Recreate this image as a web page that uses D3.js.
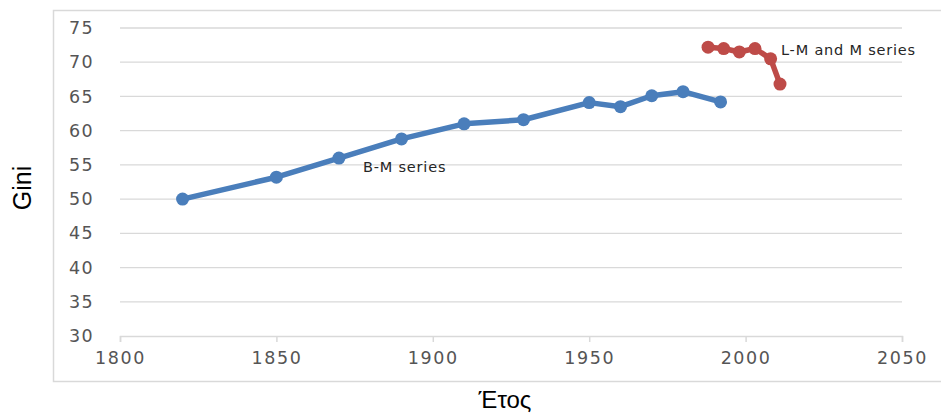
<!DOCTYPE html>
<html>
<head>
<meta charset="utf-8">
<script src="https://cdn.jsdelivr.net/npm/d3@7"></script>
<style>
  html, body { margin: 0; padding: 0; background: #fff; }
  svg { display: block; }
</style>
</head>
<body>
<svg id="chart" width="941" height="416"></svg>
<script>
// ---- data ----
const bmYears  = [1820, 1850, 1870, 1890, 1910, 1929, 1950, 1960, 1970, 1980, 1992];
const bmGini   = [50.0, 53.2, 56.0, 58.8, 61.0, 61.6, 64.1, 63.5, 65.1, 65.7, 64.2];
const lmYears  = [1988, 1993, 1998, 2003, 2008, 2011];
const lmGini   = [72.2, 72.0, 71.5, 72.0, 70.5, 66.8];
const xTicks   = [1800, 1850, 1900, 1950, 2000, 2050];
const yTicks   = [30, 35, 40, 45, 50, 55, 60, 65, 70, 75];
const bmLabel  = "B-M series";
const lmLabel  = "L-M and M series";
const xTitle   = "Έτος";
const yTitle   = "Gini";

// ---- layout ----
const svg = d3.select("#chart");
const x = d3.scaleLinear().domain([1800, 2050]).range([120, 902]);
const y = d3.scaleLinear().domain([30, 75]).range([336, 28]);

const blue = "#4a7ebb", red = "#be4b48", grid = "#d9d9d9", tickText = "#555555";

// frame
svg.append("rect").attr("x", 53.5).attr("y", 10.5).attr("width", 900).attr("height", 371)
  .attr("fill", "none").attr("stroke", grid).attr("stroke-width", 1.5);

// grid lines
svg.append("g").selectAll("line").data(yTicks.filter(d => d > 30)).join("line")
  .attr("x1", x(1800)).attr("x2", x(2050))
  .attr("y1", d => y(d)).attr("y2", d => y(d))
  .attr("stroke", grid).attr("stroke-width", 1.3);

// x axis
const xAxis = d3.axisBottom(x).tickValues(xTicks).tickFormat(d3.format("d")).tickSize(6).tickPadding(10);
const gx = svg.append("g").attr("transform", `translate(0,${y(30)})`).call(xAxis);
gx.select(".domain").attr("stroke", grid).attr("stroke-width", 1.5);
gx.selectAll(".tick line").attr("stroke", grid).attr("stroke-width", 1.5);
gx.selectAll(".tick text").attr("fill", tickText)
  .style("font-family", "'DejaVu Sans', sans-serif").style("font-size", "17.5px")
  .style("letter-spacing", "1.6px");

// y axis
const yAxis = d3.axisLeft(y).tickValues(yTicks).tickSize(0).tickPadding(26);
const gy = svg.append("g").attr("transform", `translate(${x(1800)},0)`).call(yAxis);
gy.select(".domain").remove();
gy.selectAll(".tick text").attr("fill", tickText)
  .style("font-family", "'DejaVu Sans', sans-serif").style("font-size", "17.5px")
  .style("letter-spacing", "1.4px");

// series
const line = d3.line().x(d => x(d[0])).y(d => y(d[1]));
function drawSeries(xs, ys, color) {
  const pts = xs.map((v, i) => [v, ys[i]]);
  svg.append("path").datum(pts).attr("d", line)
    .attr("fill", "none").attr("stroke", color).attr("stroke-width", 5.5)
    .attr("stroke-linejoin", "round").attr("stroke-linecap", "round");
  svg.append("g").selectAll("circle").data(pts).join("circle")
    .attr("cx", d => x(d[0])).attr("cy", d => y(d[1])).attr("r", 6.5)
    .attr("fill", color);
}
drawSeries(bmYears, bmGini, blue);
drawSeries(lmYears, lmGini, red);

// series labels
svg.append("text").attr("x", 363).attr("y", 172).text(bmLabel)
  .attr("fill", "#262626").style("font-family", "'DejaVu Sans', sans-serif")
  .style("font-size", "14.5px").style("letter-spacing", "0.8px");
svg.append("text").attr("x", 781).attr("y", 55).text(lmLabel)
  .attr("fill", "#262626").style("font-family", "'DejaVu Sans', sans-serif")
  .style("font-size", "14.5px").style("letter-spacing", "0.8px");

// axis titles
svg.append("text").attr("transform", "translate(31,188) rotate(-90)")
  .attr("text-anchor", "middle").text(yTitle)
  .style("font-family", "'Liberation Sans', Arial, sans-serif").style("font-size", "25px").attr("fill", "#000");
svg.append("text").attr("x", 505).attr("y", 408)
  .attr("text-anchor", "middle").text(xTitle)
  .style("font-family", "'Liberation Sans', Arial, sans-serif").style("font-size", "24px").attr("fill", "#000");
</script>
</body>
</html>
